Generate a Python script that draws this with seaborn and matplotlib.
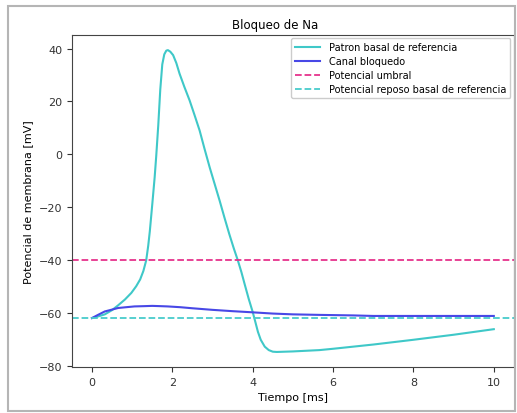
import pandas as pd
import matplotlib
matplotlib.use("Agg")
import matplotlib.pyplot as plt
import seaborn as sns
from matplotlib.patches import Rectangle

# valores
t_basal = [0.0, 0.15, 0.32, 0.5, 0.65, 0.82, 0.98, 1.1, 1.2, 1.28, 1.35, 1.4, 1.44, 1.5,
           1.56, 1.6, 1.65, 1.7, 1.75, 1.8, 1.85, 1.89, 1.95, 2.02, 2.1, 2.18, 2.3, 2.43,
           2.55, 2.68, 2.8, 2.93, 3.05, 3.18, 3.3, 3.42, 3.53, 3.63, 3.72, 3.8, 3.9, 4.0,
           4.07, 4.13, 4.2, 4.3, 4.4, 4.5, 4.6, 5.0, 5.66, 6.0, 7.0, 8.0, 9.0, 10.0]
v_basal = [-61.8, -61.2, -60.4, -58.8, -57.0, -54.8, -52.3, -49.8, -47.2, -44.0, -40.0,
           -34.5, -29.0, -19.0, -8.7, -0.5, 11.0, 24.5, 34.0, 37.8, 39.2, 39.4, 38.8, 37.5,
           34.5, 30.5, 25.5, 20.4, 15.0, 9.0, 2.2, -4.9, -11.0, -17.6, -24.0, -30.2, -35.5,
           -40.0, -44.5, -49.0, -54.5, -59.5, -63.5, -67.0, -70.0, -72.6, -73.9, -74.5,
           -74.6, -74.4, -73.9, -73.4, -71.8, -70.0, -68.1, -66.0]

t_bloq = [0.0, 0.15, 0.32, 0.5, 0.65, 0.85, 1.06, 1.3, 1.5, 1.7, 1.88, 2.2, 2.5, 3.0, 3.5,
          3.96, 4.5, 5.0, 5.66, 6.5, 7.0, 8.0, 9.0, 10.0]
v_bloq = [-61.8, -60.6, -59.3, -58.6, -58.0, -57.7, -57.4, -57.3, -57.2, -57.3, -57.4, -57.7,
          -58.1, -58.7, -59.2, -59.6, -60.1, -60.4, -60.6, -60.8, -61.0, -61.0, -61.0, -61.0]

v_umbral = -40
v_reposo = -61.8

df_basal = pd.DataFrame({"t": t_basal, "v": v_basal})
df_bloq = pd.DataFrame({"t": t_bloq, "v": v_bloq})

plt.rcParams["font.family"] = ["DejaVu Sans"]
fig = plt.figure(figsize=(5.17, 4.14), dpi=100)
ax = fig.add_axes([0.139, 0.111, 0.855, 0.802])

sns.lineplot(data=df_basal, x="t", y="v", ax=ax, color="#3fc8c8", linewidth=1.5,
             label="Patron basal de referencia", sort=False)
sns.lineplot(data=df_bloq, x="t", y="v", ax=ax, color="#4848e6", linewidth=1.5,
             label="Canal bloquedo", sort=False)
ax.axhline(v_umbral, color="#e6338c", linestyle="--", linewidth=1.3, label="Potencial umbral")
ax.axhline(v_reposo, color="#48cccc", linestyle="--", linewidth=1.3,
           label="Potencial reposo basal de referencia")

ax.set_xticks([0, 2, 4, 6, 8, 10])
ax.set_yticks([-80, -60, -40, -20, 0, 20, 40])
ax.tick_params(labelsize=8, colors="#333333")
ax.set_xlabel("Tiempo [ms]", fontsize=8)
ax.set_ylabel("Potencial de membrana [mV]", fontsize=8)
ax.set_title("Bloqueo de Na", fontsize=8.5, x=0.46, pad=5)
for s in ax.spines.values():
    s.set_color("#444444")
ax.legend(loc="upper right", fontsize=7, framealpha=1, handlelength=2.5,
          handletextpad=1.0, labelspacing=0.4, borderaxespad=0.35)

fig.patches.append(Rectangle((0.016, 0.005), 0.98, 0.978, transform=fig.transFigure,
                             fill=False, edgecolor="#b5b5b5", linewidth=1.5))

fig.savefig("out.png", dpi=100)
